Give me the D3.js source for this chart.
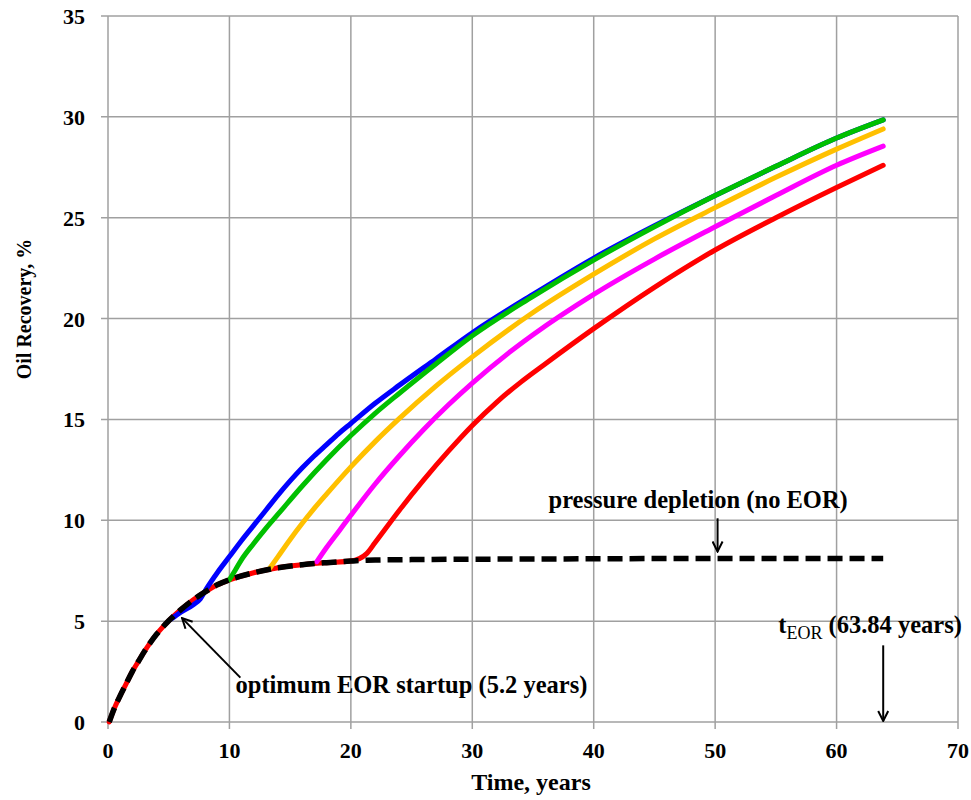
<!DOCTYPE html>
<html>
<head>
<meta charset="utf-8">
<script src="https://d3js.org/d3.v7.min.js"></script>
<style>
  body { margin: 0; background: #fff; }
  text { font-family: "Liberation Serif", "Times New Roman", serif; font-weight: bold; fill: #000; }
</style>
</head>
<body>
<svg id="chart" width="971" height="800"></svg>
<script>
// pressure depletion (no EOR)
const baseT = [0.1, 0.5, 1, 1.5, 2, 2.5, 3, 3.5, 4, 4.5, 5, 6, 7, 8, 9, 10, 12, 14, 16, 18, 20, 21.3, 22, 25, 30, 35, 40, 45, 50, 55, 60, 63.84];
const baseV = [0, 0.65, 1.3, 1.9, 2.5, 3.0, 3.5, 3.95, 4.35, 4.7, 5.02, 5.57, 6.05, 6.45, 6.8, 7.05, 7.4, 7.65, 7.8, 7.9, 7.98, 8.02, 8.03, 8.05, 8.07, 8.08, 8.09, 8.1, 8.1, 8.1, 8.1, 8.1];

// EOR started at 5.2 years
const blueT = [5.2, 6, 7, 7.6, 8.1, 9, 10, 11, 12, 13, 14, 15, 16, 17, 18, 19, 20, 22, 24, 27, 30, 35, 40, 45, 50, 55, 60, 63.84];
const blueV = [5.1, 5.45, 5.8, 6.1, 6.6, 7.4, 8.2, 9.0, 9.75, 10.5, 11.25, 11.95, 12.6, 13.2, 13.75, 14.3, 14.8, 15.8, 16.7, 18.0, 19.3, 21.2, 23.0, 24.6, 26.1, 27.55, 28.95, 29.85];

// EOR started at 10 years
const greenT = [10, 10.5, 11, 12, 13, 14, 16, 18, 20, 22, 24, 27, 30, 35, 40, 45, 50, 55, 60, 63.84];
const greenV = [7.05, 7.55, 8.05, 8.85, 9.6, 10.3, 11.7, 13.0, 14.2, 15.3, 16.3, 17.75, 19.15, 21.1, 22.9, 24.55, 26.1, 27.55, 28.95, 29.85];

// EOR started at 13.3 years
const orangeT = [13.3, 14, 15, 16, 17, 18, 20, 22, 24, 27, 30, 35, 40, 45, 50, 55, 60, 63.84];
const orangeV = [7.6, 8.2, 9.05, 9.85, 10.6, 11.3, 12.65, 13.9, 15.05, 16.65, 18.1, 20.3, 22.2, 23.95, 25.5, 27.0, 28.4, 29.4];

// EOR started at 17.2 years
const magentaT = [17.2, 18, 19, 20, 22, 24, 26, 28, 30, 33, 35, 40, 45, 50, 55, 60, 63.84];
const magentaV = [7.95, 8.65, 9.45, 10.25, 11.8, 13.2, 14.5, 15.7, 16.8, 18.3, 19.2, 21.2, 22.95, 24.55, 26.1, 27.6, 28.55];

// EOR started at 21.3 years (red follows the depletion curve before that)
const redT = [21.3, 22, 24, 26, 28, 30, 32, 34, 36, 40, 45, 50, 55, 60, 63.84];
const redV = [8.35, 8.9, 10.5, 12.0, 13.4, 14.7, 15.85, 16.85, 17.75, 19.5, 21.55, 23.4, 25.0, 26.5, 27.6];

const xTicks = [0, 10, 20, 30, 40, 50, 60, 70];
const yTicks = [0, 5, 10, 15, 20, 25, 30, 35];

const svg = d3.select("#chart");
const x = d3.scaleLinear().domain([0, 70]).range([108, 958]);
const y = d3.scaleLinear().domain([0, 35]).range([722, 16]);

const gridColor = "#a0a0a0";

// grid
svg.append("g").selectAll("line").data(xTicks).join("line")
  .attr("x1", d => x(d)).attr("x2", d => x(d))
  .attr("y1", y(35)).attr("y2", y(0) + 7)
  .attr("stroke", gridColor).attr("stroke-width", 1.5);
svg.append("g").selectAll("line").data(yTicks).join("line")
  .attr("x1", x(0) - 7).attr("x2", x(70))
  .attr("y1", d => y(d)).attr("y2", d => y(d))
  .attr("stroke", gridColor).attr("stroke-width", 1.5);

// tick labels
svg.append("g").selectAll("text").data(xTicks).join("text")
  .attr("x", d => x(d)).attr("y", y(0) + 36)
  .attr("text-anchor", "middle").style("font-size", "22px")
  .text(d => d);
svg.append("g").selectAll("text").data(yTicks).join("text")
  .attr("x", x(0) - 23).attr("y", d => y(d) + 8)
  .attr("text-anchor", "end").style("font-size", "22px")
  .text(d => d);

// axis titles
svg.append("text").attr("x", 531).attr("y", 790)
  .attr("text-anchor", "middle").style("font-size", "24px").text("Time, years");
svg.append("text").attr("transform", "translate(31,309) rotate(-90)")
  .attr("text-anchor", "middle").style("font-size", "20px").text("Oil Recovery, %");

const line = d3.line().x(d => x(d[0])).y(d => y(d[1])).curve(d3.curveMonotoneX);
const pts = (ts, vs) => ts.map((t, i) => [t, vs[i]]);

const basePts = pts(baseT, baseV);
const redPts = basePts.filter(p => p[0] < redT[0]).concat(pts(redT, redV));

const series = [
  { pts: redPts, color: "#ff0000" },
  { pts: pts(magentaT, magentaV), color: "#ff00ff" },
  { pts: pts(orangeT, orangeV), color: "#ffc000" },
  { pts: pts(blueT, blueV), color: "#0000ff" },
  { pts: pts(greenT, greenV), color: "#00c000" }
];

svg.append("g").selectAll("path").data(series).join("path")
  .attr("d", d => line(d.pts))
  .attr("fill", "none")
  .attr("stroke", d => d.color)
  .attr("stroke-width", 5)
  .attr("stroke-linecap", "round")
  .attr("stroke-linejoin", "round");

svg.append("path")
  .attr("d", line(basePts))
  .attr("fill", "none")
  .attr("stroke", "#000")
  .attr("stroke-width", 5.5)
  .attr("stroke-dasharray", "15,7");

// annotations
svg.append("defs").append("marker")
  .attr("id", "arr").attr("viewBox", "0 0 12 12")
  .attr("refX", 11).attr("refY", 6)
  .attr("markerWidth", 12).attr("markerHeight", 12)
  .attr("markerUnits", "userSpaceOnUse")
  .attr("orient", "auto")
  .append("path").attr("d", "M1,1 L11,6 L1,11")
  .attr("fill", "none").attr("stroke", "#000").attr("stroke-width", 2);

function arrow(t1, v1, t2, v2) {
  svg.append("line")
    .attr("x1", x(t1)).attr("y1", y(v1)).attr("x2", x(t2)).attr("y2", y(v2))
    .attr("stroke", "#000").attr("stroke-width", 2)
    .attr("marker-end", "url(#arr)");
}

arrow(10.9, 2.2, 6.1, 5.15);
svg.append("text").attr("x", x(10.5)).attr("y", y(1.45))
  .style("font-size", "24.5px").text("optimum EOR startup (5.2 years)");

arrow(50.2, 10.1, 50.2, 8.45);
svg.append("text").attr("x", x(48.6)).attr("y", y(10.6))
  .attr("text-anchor", "middle").style("font-size", "24.5px").text("pressure depletion (no EOR)");

arrow(63.84, 3.8, 63.84, 0.05);
const tEor = svg.append("text").attr("x", x(55.2)).attr("y", y(4.4)).style("font-size", "24.5px");
tEor.append("tspan").text("t");
tEor.append("tspan").attr("dy", 6).style("font-size", "18px").style("font-weight", "normal").text("EOR");
tEor.append("tspan").attr("dy", -6).text(" (63.84 years)");
</script>
</body>
</html>
